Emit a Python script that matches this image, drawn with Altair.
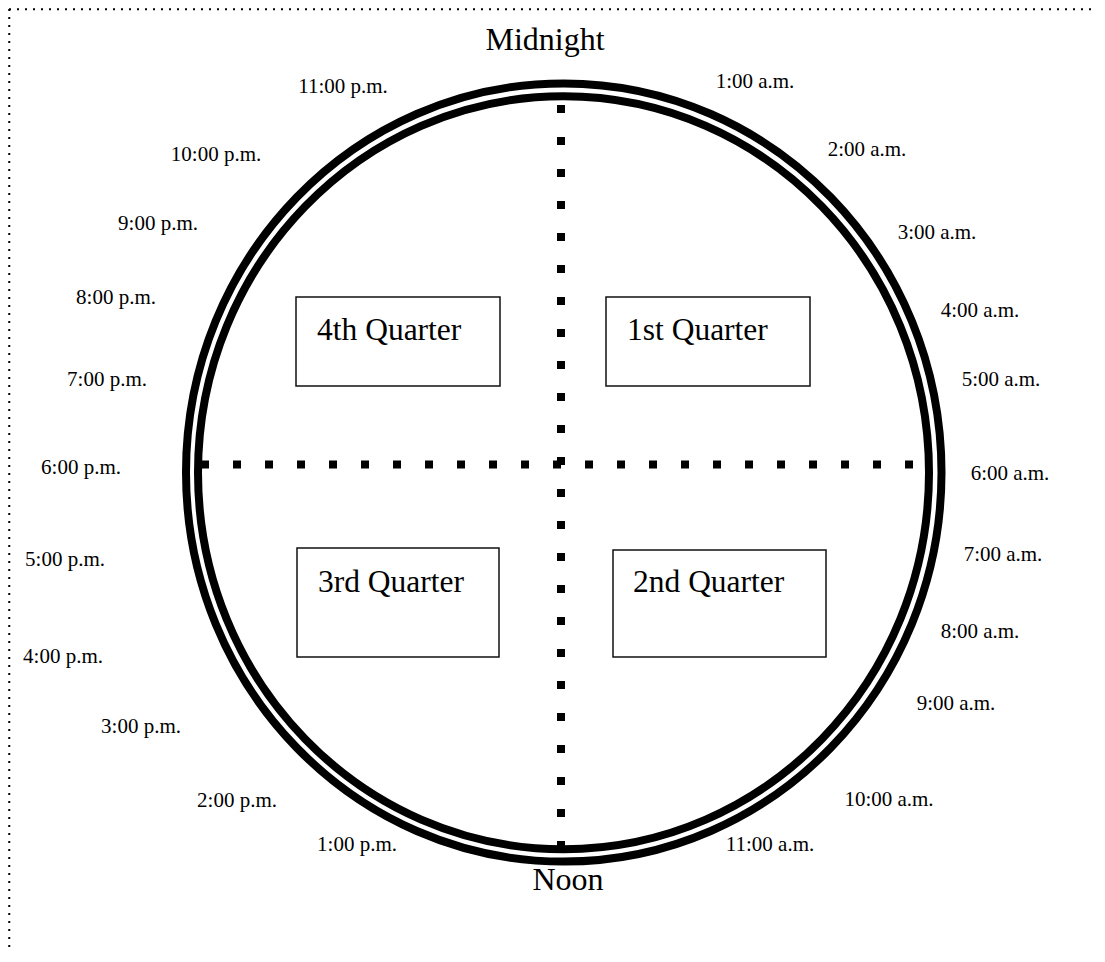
import altair as alt
import pandas as pd

# ---- data ----
hour_labels = ["1:00 a.m.", "2:00 a.m.", "3:00 a.m.", "4:00 a.m.", "5:00 a.m.", "6:00 a.m.",
               "7:00 a.m.", "8:00 a.m.", "9:00 a.m.", "10:00 a.m.", "11:00 a.m.",
               "1:00 p.m.", "2:00 p.m.", "3:00 p.m.", "4:00 p.m.", "5:00 p.m.", "6:00 p.m.",
               "7:00 p.m.", "8:00 p.m.", "9:00 p.m.", "10:00 p.m.", "11:00 p.m."]
hour_x = [755, 867, 937, 980, 1001, 1010, 1003, 980, 956, 889, 770,
          357, 237, 141, 63, 65, 81, 107, 116, 158, 216, 343]
hour_y = [82, 150, 233, 311, 380, 474, 555, 632, 704, 800, 845,
          845, 801, 727, 657, 560, 468, 380, 298, 224, 155, 87]

pole_labels = ["Midnight", "Noon"]
pole_x = [545, 568]
pole_y = [40, 880]

quarters = ["1st Quarter", "2nd Quarter", "3rd Quarter", "4th Quarter"]
box_x1 = [606, 613, 297, 296]
box_x2 = [810, 826, 499, 500]
box_y1 = [297, 550, 548, 297]
box_y2 = [386, 657, 657, 386]
label_x = [627, 633, 318, 317]
label_y = [340, 592, 592, 340]

ring_names = ["outer", "inner"]
ring_cx = [563.75, 563.5]
ring_cy = [472.5, 472.75]
ring_width = [755.5, 731.0]

axis_h = {"x": [201], "x2": [917], "y": [464.5]}
axis_v = {"x": [561], "y": [105], "y2": [849]}

W, H = 1088, 940
X0, Y0 = 9, 9
border_top = {"x": [X0], "x2": [X0 + W], "y": [X0 + 0.25]}
border_left = {"x": [X0 + 0.25], "y": [Y0], "y2": [Y0 + H]}

# ---- frames ----
hours_df = pd.DataFrame({"label": hour_labels, "x": hour_x, "y": hour_y})
poles_df = pd.DataFrame({"label": pole_labels, "x": pole_x, "y": pole_y})
boxes_df = pd.DataFrame({"q": quarters, "x": box_x1, "x2": box_x2, "y": box_y1, "y2": box_y2,
                         "lx": label_x, "ly": label_y})
rings_df = pd.DataFrame({"ring": ring_names, "x": ring_cx, "y": ring_cy,
                         "size": [w * w for w in ring_width]})

xs = alt.Scale(domain=[X0, X0 + W], nice=False, zero=False)
ys = alt.Scale(domain=[Y0, Y0 + H], nice=False, zero=False, reverse=True)
FONT = "Liberation Serif"

ellipse = "M-1,0A1,1.03,0,1,1,1,0A1,1.03,0,1,1,-1,0Z"

rings = alt.Chart(rings_df).mark_point(
    shape=ellipse, filled=False, stroke="black", strokeWidth=8, opacity=1
).encode(
    x=alt.X("x:Q", scale=xs, axis=None),
    y=alt.Y("y:Q", scale=ys, axis=None),
    size=alt.Size("size:Q", scale=None, legend=None),
)

def hrule(d, **kw):
    return alt.Chart(pd.DataFrame(d)).mark_rule(**kw).encode(
        x=alt.X("x:Q", scale=xs, axis=None), x2="x2:Q",
        y=alt.Y("y:Q", scale=ys, axis=None),
    )

def vrule(d, **kw):
    return alt.Chart(pd.DataFrame(d)).mark_rule(**kw).encode(
        x=alt.X("x:Q", scale=xs, axis=None),
        y=alt.Y("y:Q", scale=ys, axis=None), y2="y2:Q",
    )

dots = dict(stroke="black", strokeWidth=8, strokeDash=[8, 24], strokeCap="butt")
fine = dict(stroke="black", strokeWidth=2, strokeDash=[2, 6], strokeCap="butt")

hline = hrule(axis_h, **dots)
vline = vrule(axis_v, **dots)
btop = hrule(border_top, **fine)
bleft = vrule(border_left, **fine)

boxes = alt.Chart(boxes_df).mark_rect(
    fill="white", stroke="#111111", strokeWidth=1.5
).encode(
    x=alt.X("x:Q", scale=xs, axis=None), x2="x2:Q",
    y=alt.Y("y:Q", scale=ys, axis=None), y2="y2:Q",
)

qtext = alt.Chart(boxes_df).mark_text(
    align="left", baseline="alphabetic", font=FONT, fontSize=31.5, color="black"
).encode(
    x=alt.X("lx:Q", scale=xs, axis=None),
    y=alt.Y("ly:Q", scale=ys, axis=None),
    text="q:N",
)

htext = alt.Chart(hours_df).mark_text(
    align="center", baseline="middle", font=FONT, fontSize=21, color="black"
).encode(
    x=alt.X("x:Q", scale=xs, axis=None),
    y=alt.Y("y:Q", scale=ys, axis=None),
    text="label:N",
)

ptext = alt.Chart(poles_df).mark_text(
    align="center", baseline="middle", font=FONT, fontSize=32, color="black"
).encode(
    x=alt.X("x:Q", scale=xs, axis=None),
    y=alt.Y("y:Q", scale=ys, axis=None),
    text="label:N",
)

chart = alt.layer(btop, bleft, rings, hline, vline, boxes, qtext, htext, ptext).properties(
    width=W, height=H,
    autosize=alt.AutoSizeParams(type="none"),
    padding={"left": 1, "top": 1, "right": 0, "bottom": 0},
    background="white",
).configure_view(
    strokeWidth=0
)

chart.save("out.html", embed_options={"renderer": "svg", "actions": False})
